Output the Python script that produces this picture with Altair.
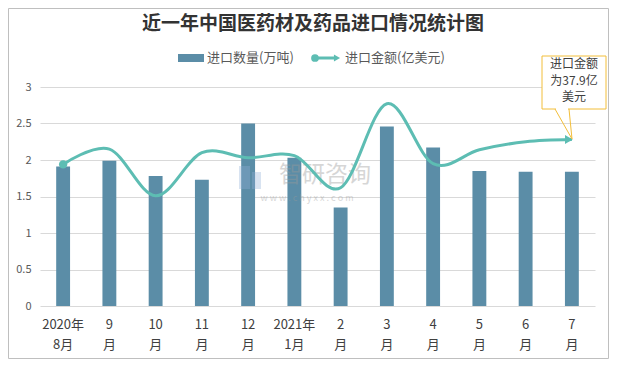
import altair as alt
import pandas as pd

months = ["2020年|8月", "9|月", "10|月", "11|月", "12|月", "2021年|1月",
          "2|月", "3|月", "4|月", "5|月", "6|月", "7|月"]
qty = [1.91, 1.99, 1.78, 1.73, 2.50, 2.03, 1.35, 2.46, 2.17, 1.85, 1.84, 1.84]
amt = [1.94, 2.15, 1.51, 2.10, 2.03, 2.06, 1.62, 2.77, 1.95, 2.14, 2.25, 2.28]
y_ticks = [0, 0.5, 1, 1.5, 2, 2.5, 3]

title_text = "近一年中国医药材及药品进口情况统计图"
legend_bar = "进口数量(万吨)"
legend_line = "进口金额(亿美元)"
callout_lines = ["进口金额", "为37.9亿", "美元"]

BAR = "#5B8DA7"
LINE = "#5DBDB3"
FONT = "Noto Sans CJK SC"

df = pd.DataFrame({"month": months, "qty": qty, "amt": amt, "idx": range(len(months))})

W, H = 555, 219
PAD = {"left": 32, "top": 79, "right": 601 - 32 - W, "bottom": 351 - 79 - H}

x_axis = alt.Axis(title=None, labelAngle=0, domain=False, ticks=False,
                  labelExpr="split(datum.label, '|')", labelFont=FONT,
                  labelFontSize=13, labelColor="#404040", labelPadding=12,
                  labelLineHeight=20, labelBaseline="top")
y_axis = alt.Axis(title=None, values=y_ticks, format="~g", domain=False, ticks=False,
                  gridColor="#D9D9D9", labelFont=FONT, labelFontSize=11,
                  labelColor="#595959", labelPadding=9, labelOverlap=False)
x_scale = alt.Scale(paddingInner=0, paddingOuter=0)
y_scale = alt.Scale(domain=[0, 3], nice=False)

one = alt.Data(values=[{}])

border = alt.Chart(one).mark_rect(fill=None, stroke="#BFBFBF", strokeWidth=1).encode(
    x=alt.value(-31.5), x2=alt.value(568.5), y=alt.value(-78.5), y2=alt.value(271.5))

bars = alt.Chart(df).mark_bar(width={"band": 0.3}, color=BAR).encode(
    x=alt.X("month:N", sort=months, scale=x_scale, axis=x_axis),
    y=alt.Y("qty:Q", scale=y_scale, axis=y_axis))

base_line = alt.Chart(df).encode(
    x=alt.X("month:N", sort=months, scale=x_scale, axis=x_axis),
    y=alt.Y("amt:Q", scale=y_scale, axis=y_axis))
line = base_line.mark_line(color=LINE, strokeWidth=3, interpolate="cardinal")
start_pt = base_line.transform_filter("datum.idx == 0").mark_circle(
    color=LINE, size=70, opacity=1)
end_pt = base_line.transform_filter(f"datum.idx == {len(months) - 1}").mark_point(
    shape="triangle-right", filled=True, color=LINE, size=80, opacity=1, xOffset=-3)

wm1 = alt.Chart(one).mark_text(text="智研咨询", font=FONT, fontSize=23, color="#9A9A9A",
                               opacity=0.4).encode(x=alt.value(285), y=alt.value(88))
wm2 = alt.Chart(one).mark_text(text="w w w . c h y x x . c o m", font=FONT, fontSize=9,
                               color="#9A9A9A", opacity=0.4).encode(x=alt.value(267), y=alt.value(111))
logo1 = alt.Chart(one).mark_rect(color="#8FB0D6", opacity=0.35).encode(
    x=alt.value(199), x2=alt.value(210), y=alt.value(79), y2=alt.value(102))
logo2 = alt.Chart(one).mark_rect(color="#8FB0D6", opacity=0.35).encode(
    x=alt.value(212), x2=alt.value(221), y=alt.value(85), y2=alt.value(102))

title = alt.Chart(one).mark_text(text=title_text, font=FONT, fontSize=19, fontWeight="bold",
                                 color="#333333").encode(x=alt.value(273), y=alt.value(-63))

leg_sw = alt.Chart(one).mark_rect(color=BAR).encode(
    x=alt.value(138), x2=alt.value(164), y=alt.value(-33), y2=alt.value(-25))
leg_t1 = alt.Chart(one).mark_text(text=legend_bar, font=FONT, fontSize=13, color="#595959",
                                  align="left").encode(x=alt.value(167), y=alt.value(-29))
leg_ln = alt.Chart(one).mark_rule(color=LINE, strokeWidth=3).encode(
    x=alt.value(273), x2=alt.value(296), y=alt.value(-29))
leg_c = alt.Chart(one).mark_circle(color=LINE, size=60, opacity=1).encode(
    x=alt.value(275), y=alt.value(-29))
leg_a = alt.Chart(one).mark_point(shape="triangle-right", filled=True, color=LINE, size=50,
                                  opacity=1).encode(x=alt.value(297), y=alt.value(-29))
leg_t2 = alt.Chart(one).mark_text(text=legend_line, font=FONT, fontSize=13, color="#595959",
                                  align="left").encode(x=alt.value(305), y=alt.value(-29))

GOLD = "#F2BE3A"
box = alt.Chart(one).mark_rect(fill="white", stroke=GOLD, strokeWidth=1).encode(
    x=alt.value(502), x2=alt.value(566), y=alt.value(-31), y2=alt.value(22))
gap = alt.Chart(one).mark_rule(color="white", strokeWidth=2).encode(
    x=alt.value(516), x2=alt.value(528), y=alt.value(22))
ptr1 = alt.Chart(one).mark_rule(color=GOLD, strokeWidth=1).encode(
    x=alt.value(515), x2=alt.value(532), y=alt.value(22), y2=alt.value(52))
ptr2 = alt.Chart(one).mark_rule(color=GOLD, strokeWidth=1).encode(
    x=alt.value(529), x2=alt.value(532), y=alt.value(22), y2=alt.value(52))
call_t = alt.Chart(one).mark_text(text=callout_lines, font=FONT, fontSize=12, color="#404040",
                                  lineHeight=16.5, baseline="top").encode(
    x=alt.value(534), y=alt.value(-28))

chart = alt.layer(
    border, bars, wm1, wm2, logo1, logo2, line, start_pt, end_pt,
    title, leg_sw, leg_t1, leg_ln, leg_c, leg_a, leg_t2,
    box, gap, ptr1, ptr2, call_t
).properties(
    width=W, height=H, autosize="none", padding=PAD, background="white"
).configure_view(stroke=None)

chart.save("out.html", embed_options={"renderer": "svg", "actions": False})
